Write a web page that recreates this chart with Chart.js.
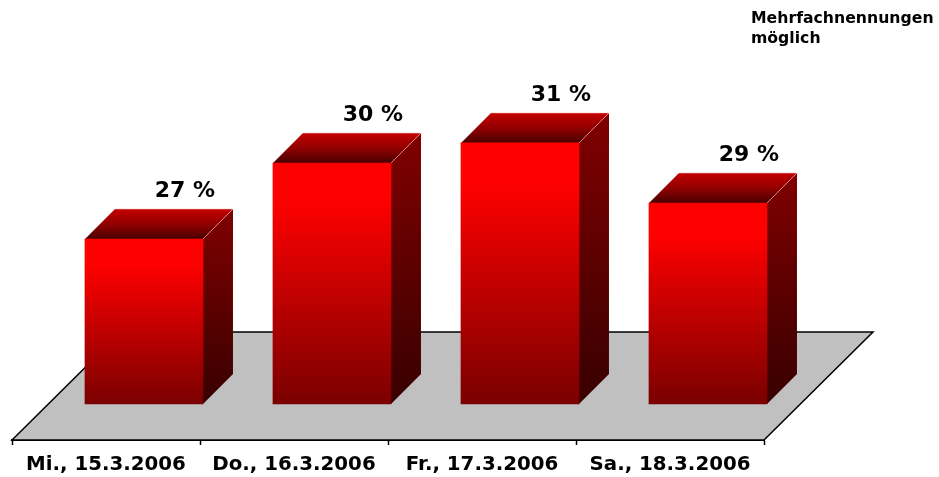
<!DOCTYPE html>
<html>
<head>
<meta charset="utf-8">
<script src="https://cdn.jsdelivr.net/npm/chart.js@4"></script>
<style>
  body { margin: 0; background: #fff; }
</style>
</head>
<body>
<canvas id="chart" width="939" height="477"></canvas>
<script>
const categories = ["Mi., 15.3.2006", "Do., 16.3.2006", "Fr., 17.3.2006", "Sa., 18.3.2006"];
const values = [27.41, 29.9, 30.56, 28.59];
const valueLabels = ["27 %", "30 %", "31 %", "29 %"];
const note = ["Mehrfachnennungen", "möglich"];

const barBase = 22;
const FONT = '"DejaVu Sans"';
const depth = 30;

function frontFill(c) {
  const y = c.chart.scales.y;
  const top = y.getPixelForValue(values[c.dataIndex]);
  const bottom = y.getPixelForValue(barBase);
  // options also get resolved before the layout has run
  if (!isFinite(top) || !isFinite(bottom)) return "#ff0000";
  const g = c.chart.ctx.createLinearGradient(0, top, 0, bottom);
  g.addColorStop(0, "#ff0000");
  g.addColorStop(0.15, "#ff0000");
  g.addColorStop(1, "#7a0000");
  return g;
}

const box3d = {
  id: "box3d",
  beforeDatasetsDraw(chart) {
    const ctx = chart.ctx;
    const a = chart.chartArea;
    // floor
    ctx.save();
    ctx.beginPath();
    ctx.moveTo(a.left, a.bottom);
    ctx.lineTo(a.left + 109, a.bottom - 108);
    ctx.lineTo(a.right + 109, a.bottom - 108);
    ctx.lineTo(a.right, a.bottom);
    ctx.closePath();
    ctx.fillStyle = "#c0c0c0";
    ctx.fill();
    ctx.strokeStyle = "#000";
    ctx.lineWidth = 1.5;
    ctx.stroke();
    // side and top of every bar
    chart.getDatasetMeta(0).data.forEach(function(bar) {
      const l = bar.x - bar.width / 2, r = bar.x + bar.width / 2;
      let g = ctx.createLinearGradient(0, bar.y - depth, 0, bar.base);
      g.addColorStop(0, "#800000");
      g.addColorStop(1, "#380000");
      ctx.fillStyle = g;
      ctx.beginPath();
      ctx.moveTo(r, bar.y);
      ctx.lineTo(r + depth, bar.y - depth);
      ctx.lineTo(r + depth, bar.base - depth);
      ctx.lineTo(r, bar.base);
      ctx.closePath();
      ctx.fill();

      g = ctx.createLinearGradient(0, bar.y - depth, 0, bar.y);
      g.addColorStop(0, "#c40000");
      g.addColorStop(0.5, "#920000");
      g.addColorStop(1, "#480000");
      ctx.fillStyle = g;
      ctx.beginPath();
      ctx.moveTo(l, bar.y);
      ctx.lineTo(l + depth, bar.y - depth);
      ctx.lineTo(r + depth, bar.y - depth);
      ctx.lineTo(r, bar.y);
      ctx.closePath();
      ctx.fill();

      // thin light edges
      ctx.strokeStyle = "rgba(255,190,190,0.55)";
      ctx.lineWidth = 1;
      ctx.beginPath();
      ctx.moveTo(l + depth, bar.y - depth);
      ctx.lineTo(r + depth, bar.y - depth);
      ctx.lineTo(r, bar.y);
      ctx.stroke();
    });
    ctx.restore();
  },
  afterDatasetsDraw(chart) {
    const ctx = chart.ctx;
    ctx.save();
    ctx.fillStyle = "#000";
    ctx.font = "bold 22px " + FONT;
    ctx.textAlign = "center";
    ctx.textBaseline = "alphabetic";
    chart.getDatasetMeta(0).data.forEach(function(bar, i) {
      ctx.fillText(valueLabels[i], bar.x + 41, bar.y - 42);
    });
    ctx.font = "bold 15.7px " + FONT;
    ctx.textAlign = "left";
    ctx.fillText(note[0], 751, 23);
    ctx.fillText(note[1], 751, 43);
    ctx.restore();
  }
};

new Chart(document.getElementById("chart"), {
  type: "bar",
  data: {
    labels: categories,
    datasets: [{
      data: values.map(function(v, i) { return { x: i, y: v }; }),
      xAxisID: "xb",
      base: barBase,
      barThickness: 118,
      backgroundColor: frontFill,
      borderWidth: 0,
      clip: false
    }]
  },
  options: {
    responsive: false,
    animation: false,
    events: [],
    layout: { padding: { left: 12, right: 175, top: 38, bottom: 0 } },
    plugins: { legend: { display: false }, tooltip: { enabled: false } },
    scales: {
      x: {
        type: "category",
        offset: true,
        afterFit(s) { s.height = 37; },
        grid: { offset: true, drawOnChartArea: false, color: "#000", tickLength: 5, tickWidth: 1.5 },
        border: { color: "#000", width: 2 },
        ticks: { color: "#000", maxRotation: 0, autoSkip: false, padding: 8, font: { family: FONT, weight: "bold", size: 19.8 } }
      },
      // bars stand further back on the floor than the axis
      xb: { type: "linear", display: false, offset: false, min: -0.702, max: 3.298 },
      y: { display: false, min: 20.82, max: 34 }
    }
  },
  plugins: [box3d]
});
</script>
</body>
</html>
